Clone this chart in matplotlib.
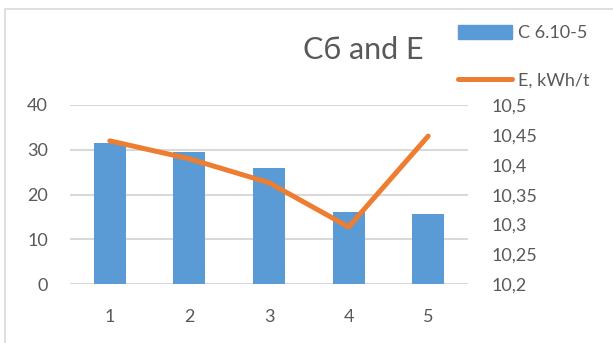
import numpy as np
import matplotlib.pyplot as plt
from matplotlib.patches import Rectangle
from matplotlib.lines import Line2D

# Data
categories = [1, 2, 3, 4, 5]
c_values = [31.5, 29.5, 26.0, 16.1, 15.6]
e_values = [10.44, 10.41, 10.37, 10.296, 10.448]
left_ticks = [0, 10, 20, 30, 40]
right_ticks = [10.2, 10.25, 10.3, 10.35, 10.4, 10.45, 10.5]
right_labels = ['10,2', '10,25', '10,3', '10,35', '10,4', '10,45', '10,5']

BLUE = '#5B9BD5'
ORANGE = '#ED7D31'
TEXT = '#595959'
GRID = '#D9D9D9'

plt.rcParams['font.family'] = ['Lato', 'DejaVu Sans']

fig = plt.figure(figsize=(6.13, 3.43), dpi=100)
ax = fig.add_axes([70 / 613, 58.7 / 343, 398 / 613, 179.3 / 343])

# chart frame
fig.patches.append(Rectangle((5 / 613, -0.1), 1.2, 1 - 9 / 343 + 0.1,
                             transform=fig.transFigure, fill=False,
                             edgecolor=GRID, linewidth=1.2))

bars = ax.bar(categories, c_values, width=0.4, color=BLUE, zorder=2)
ax.set_xlim(0.5, 5.5)
ax.set_ylim(0, 40)
ax.set_yticks(left_ticks)
ax.set_xticks(categories)
ax.grid(axis='y', color=GRID, linewidth=1.5, zorder=0)
ax.set_axisbelow(True)
for s in ax.spines.values():
    s.set_visible(False)
ax.tick_params(axis='both', length=0, labelsize=13, colors=TEXT)
ax.tick_params(axis='y', pad=16)
ax.tick_params(axis='x', pad=18)

ax2 = ax.twinx()
line, = ax2.plot(categories, e_values, color=ORANGE, linewidth=3.6,
                 solid_capstyle='round', solid_joinstyle='round', zorder=3)
ax2.set_ylim(10.2, 10.5)
ax2.set_yticks(right_ticks)
ax2.set_yticklabels(right_labels)
for s in ax2.spines.values():
    s.set_visible(False)
ax2.tick_params(axis='y', length=0, labelsize=13, colors=TEXT, pad=17)

fig.text(363 / 613, 1 - 50 / 343, 'Cб and E', fontsize=22, color=TEXT,
         ha='center', va='center')

handles = [Rectangle((0, 0), 1, 1, color=BLUE),
           Line2D([0], [0], color=ORANGE, linewidth=3.6, solid_capstyle='round')]
fig.legend(handles, ['C 6.10-5', 'E, kWh/t'], loc='upper left',
           bbox_to_anchor=(458 / 613, 1 - 25 / 343), frameon=False,
           fontsize=13, labelcolor=TEXT, handlelength=3.0, handleheight=0.85,
           handletextpad=0.3, labelspacing=1.7, borderpad=0, borderaxespad=0)

fig.savefig('out.png', dpi=100)
